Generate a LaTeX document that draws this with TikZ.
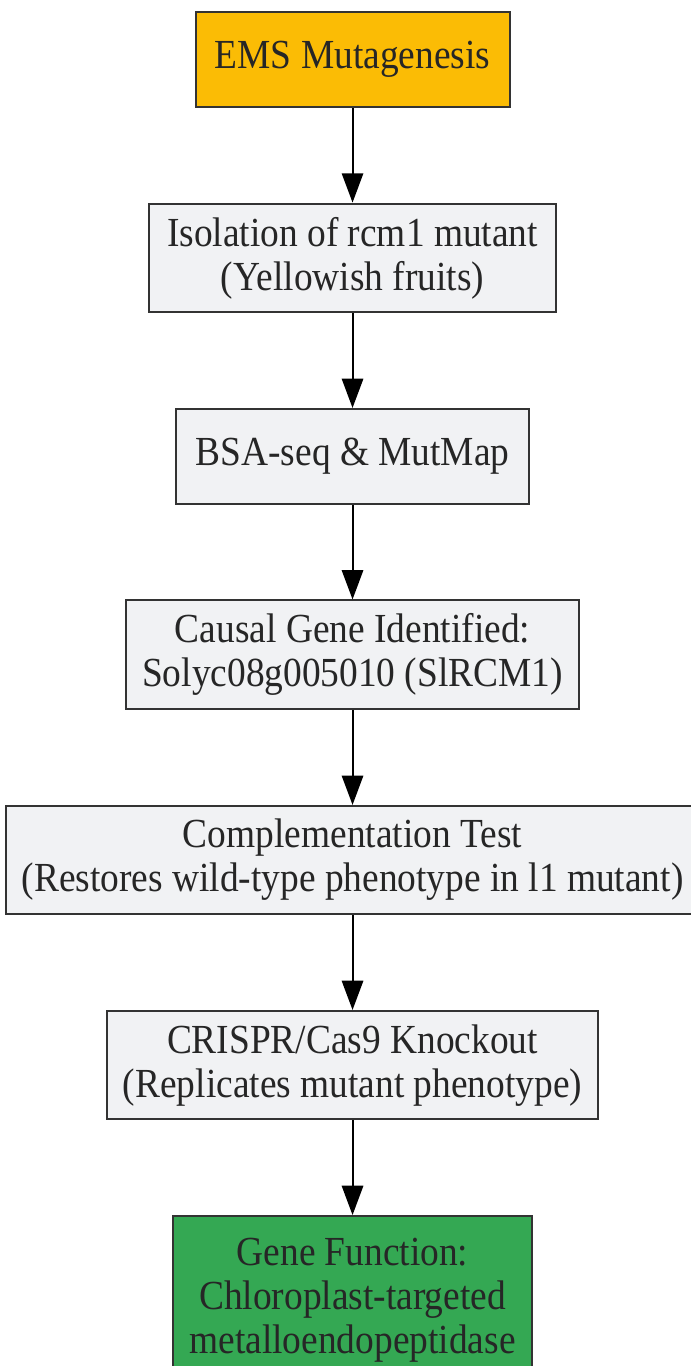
\documentclass[tikz,border=0pt]{standalone}
\usepackage{fontspec}
\setmainfont{Liberation Serif}[FakeStretch=0.905]
\usepackage{tikz}
\usetikzlibrary{positioning,arrows.meta}
\usepackage{xcolor}
\definecolor{boxgray}{HTML}{F1F2F4}
\definecolor{boxline}{HTML}{333333}
\definecolor{txtgray}{HTML}{262626}
\definecolor{emsorange}{HTML}{FBBC05}
\definecolor{fngreen}{HTML}{34A853}

\begin{document}
\begin{tikzpicture}[%
    ->,
    >={Triangle[length=22pt,width=16pt]},
    line width=1.5pt,
    node distance=71.1pt,
    stepbox/.style={%
      rectangle,
      draw=boxline,
      fill=boxgray,
      text=txtgray,
      align=center,
      inner xsep=12pt,
      inner ysep=10pt,
      minimum height=71pt,
      font=\fontsize{31pt}{33pt}\selectfont
    }
  ]
    \useasboundingbox (0,0) rectangle (518.25pt,-1024.5pt);

    \node[stepbox,fill=emsorange,minimum width=235.5pt] (ems) at (264.4pt,-44.6pt) {EMS Mutagenesis};
    \node[stepbox,minimum width=305pt] (iso) [below=of ems]     {Isolation of rcm1 mutant\\(Yellowish fruits)};
    \node[stepbox,minimum width=265pt] (bsa) [below=of iso]     {BSA-seq \& MutMap};
    \node[stepbox,minimum width=338pt] (causal) [below=of bsa]  {Causal Gene Identified:\\Solyc08g005010 (SlRCM1)};
    \node[stepbox,minimum width=514.5pt] (compl) [below=of causal] {Complementation Test\\(Restores wild-type phenotype in l1 mutant)};
    \node[stepbox,minimum width=367pt] (crispr) [below=of compl] {CRISPR/Cas9 Knockout\\(Replicates mutant phenotype)};
    \node[stepbox,fill=fngreen,minimum width=269pt,minimum height=126pt] (func) [below=of crispr] {Gene Function:\\Chloroplast-targeted\\metalloendopeptidase};

    \path (ems)    edge (iso)
          (iso)    edge (bsa)
          (bsa)    edge (causal)
          (causal) edge (compl)
          (compl)  edge (crispr)
          (crispr) edge (func)
          ;
  \end{tikzpicture}
\end{document}
